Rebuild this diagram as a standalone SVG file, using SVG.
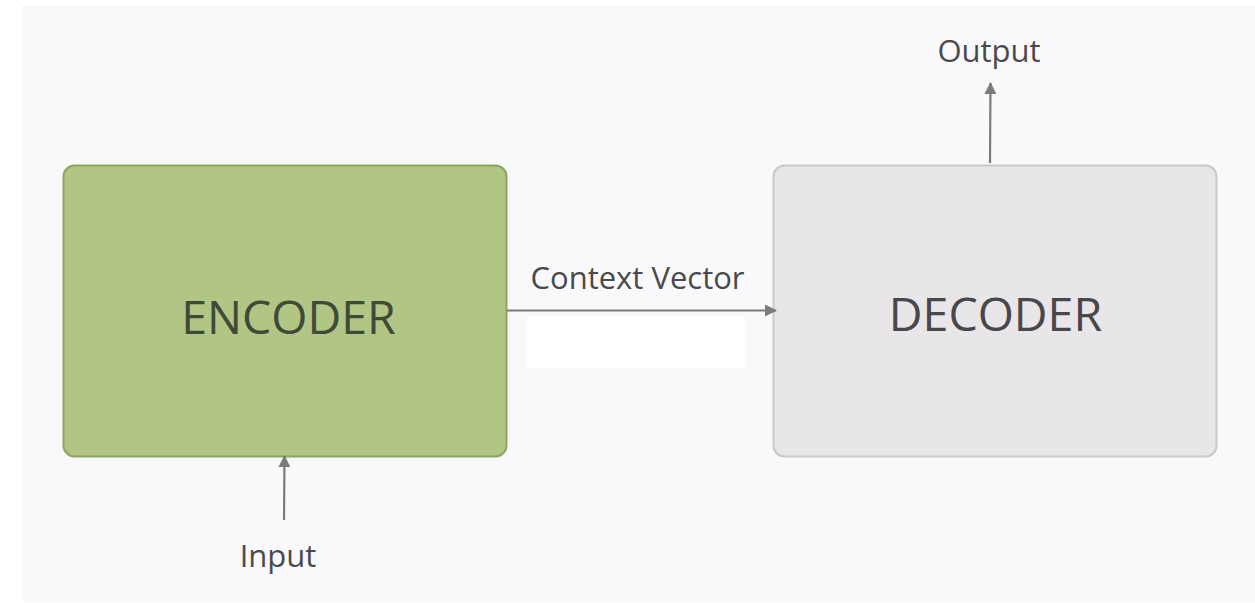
<svg xmlns="http://www.w3.org/2000/svg" width="1255" height="603" viewBox="0 0 1255 603">
  <style>
    .label { font-family: "Open Sans", "Noto Sans", sans-serif; fill: #4a4a4c; font-size: 31px; text-anchor: middle; }
    .box-title { font-family: "Open Sans", "Noto Sans", sans-serif; font-size: 46.5px; text-anchor: middle; }
    .wire { stroke: #7b7b7d; stroke-width: 2.2; fill: none; marker-end: url(#head); }
  </style>
  <defs>
    <marker id="head" viewBox="0 0 12 12" refX="11" refY="6" markerWidth="12" markerHeight="12" markerUnits="userSpaceOnUse" orient="auto">
      <path d="M0,0 L12,6 L0,12 Z" fill="#7b7b7d"/>
    </marker>
  </defs>

  <!-- canvas -->
  <rect x="0" y="0" width="1255" height="603" fill="#ffffff"/>
  <rect x="22" y="5" width="1233" height="596" fill="#f9f9fb"/>
  <rect x="527" y="316" width="218" height="52" fill="#ffffff"/>

  <g id="encoder">
    <rect x="63.5" y="165.5" width="443" height="291" rx="11" fill="#b1c584" stroke="#8aa660" stroke-width="2"/>
    <text class="box-title" x="288.5" y="333.5" fill="#3f4a38">ENCODER</text>
  </g>

  <g id="decoder">
    <rect x="773.5" y="165.5" width="443" height="291" rx="11" fill="#e9e6e9" stroke="#c9c7ca" stroke-width="2"/>
    <text class="box-title" x="995.5" y="330.5" fill="#48474a">DECODER</text>
  </g>

  <g id="input">
    <text class="label" x="278" y="567" font-size="32">Input</text>
  </g>

  <g id="output">
    <text class="label" x="989" y="62">Output</text>
  </g>

  <g id="connectors">
    <line class="wire" x1="284" y1="520" x2="284.5" y2="456"/>
    <line class="wire" x1="507" y1="310.5" x2="776" y2="310.5"/>
    <text class="label" x="637.5" y="289">Context Vector</text>
    <line class="wire" x1="990" y1="163" x2="990.5" y2="83"/>
  </g>
</svg>
